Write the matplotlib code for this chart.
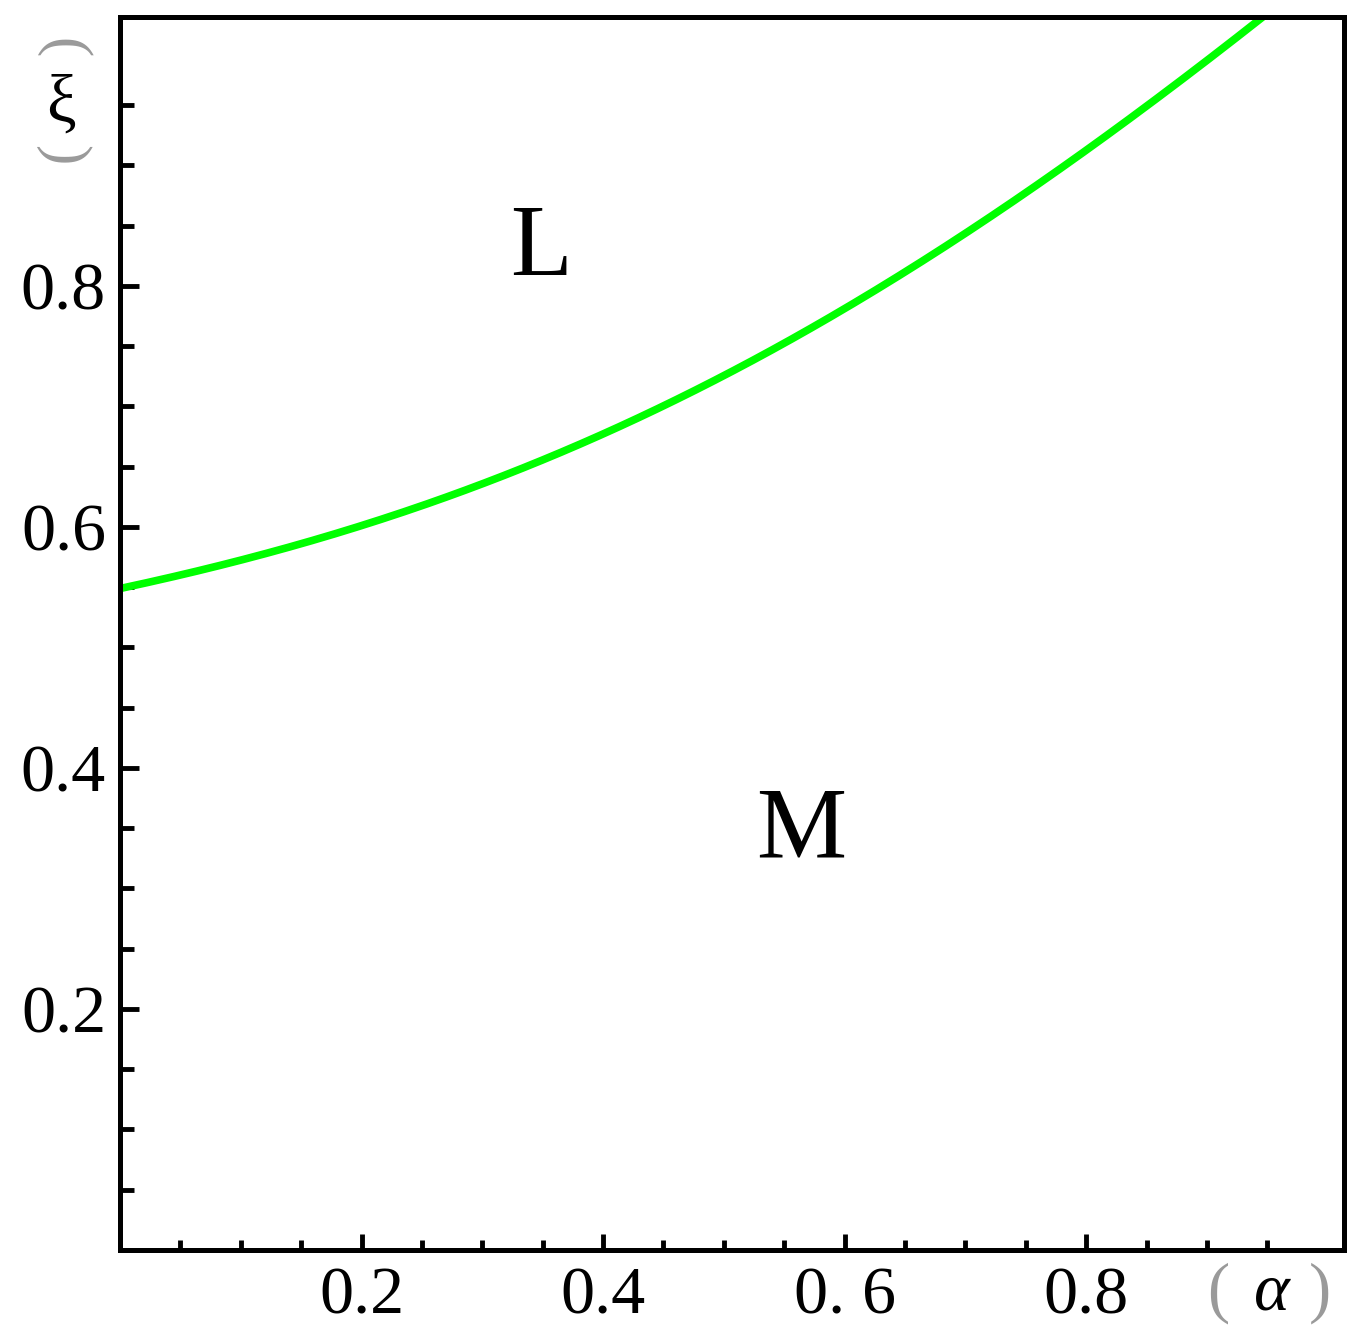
import numpy as np
import matplotlib
matplotlib.use('Agg')
from matplotlib import pyplot as plt

# boundary curve
alpha = [0.0, 0.05, 0.1, 0.15, 0.2, 0.25, 0.3, 0.35, 0.4, 0.45,
         0.5, 0.55, 0.6, 0.65, 0.7, 0.75, 0.8, 0.85, 0.9, 0.95]
xi = [0.548, 0.560, 0.573, 0.587, 0.602, 0.618, 0.635, 0.654, 0.675, 0.699,
      0.726, 0.754, 0.783, 0.813, 0.844, 0.876, 0.911, 0.948, 0.987, 1.027]

major_ticks = [0.2, 0.4, 0.6, 0.8]
x_labels = ['0.2', '0.4', '0. 6', '0.8']
y_labels = ['0.2', '0.4', '0.6', '0.8']
minor_ticks = [0.05, 0.1, 0.15, 0.25, 0.3, 0.35, 0.45, 0.5, 0.55,
               0.65, 0.7, 0.75, 0.85, 0.9, 0.95]

region_labels = ['L', 'M']
region_pos = [(0.349, 0.829), (0.564, 0.346)]

serif = 'Liberation Serif'
plt.rcParams['font.family'] = [serif, 'DejaVu Serif']

W, H, dpi = 1366, 1334, 100
fig = plt.figure(figsize=(W / dpi, H / dpi), dpi=dpi, facecolor='white')
ax = fig.add_axes([120 / W, 1 - 1250 / H, (1344 - 120) / W, (1250 - 17) / H])

# smooth the read points a little so the line has no kinks
coef = np.polyfit(alpha, xi, 4)
a_fine = np.linspace(alpha[0], alpha[-1], 300)
ax.plot(a_fine, np.polyval(coef, a_fine), color='#00ff00', lw=5.5,
        solid_capstyle='butt')
ax.set_xlim(0, 1.0135)
ax.set_ylim(0, 1.023)

for sp in ax.spines.values():
    sp.set_linewidth(3.6)

ax.set_xticks(major_ticks)
ax.set_xticklabels(x_labels)
ax.set_yticks(major_ticks)
ax.set_yticklabels(y_labels)
ax.set_xticks(minor_ticks, minor=True)
ax.set_yticks(minor_ticks, minor=True)

ax.tick_params(axis='both', which='both', direction='in', width=3.5,
               top=False, right=False, labelsize=49, colors='black')
ax.tick_params(axis='x', which='major', length=11.5, pad=12)
ax.tick_params(axis='x', which='minor', length=7)
ax.tick_params(axis='y', which='major', length=14, pad=10)
ax.tick_params(axis='y', which='minor', length=10)

for lab, (x, y) in zip(region_labels, region_pos):
    ax.text(x, y, lab, fontsize=73, ha='center', va='center')

# axis names drawn as loose text, like the original
paren_col = '#9a9a9a'
fig.text(1218 / W, 1 - 1293 / H, '(', fontsize=48, color=paren_col,
         ha='center', va='center')
fig.text(1272 / W, 1 - 1293 / H, 'α', fontsize=49, style='italic',
         ha='center', va='center')
fig.text(1320 / W, 1 - 1293 / H, ')', fontsize=48, color=paren_col,
         ha='center', va='center')

fig.text(62 / W, 1 - 48 / H, '(', fontsize=44, color=paren_col,
         rotation=-90, ha='center', va='center')
fig.text(61 / W, 1 - 105 / H, 'ξ', fontsize=48, ha='center', va='center')
fig.text(62 / W, 1 - 155 / H, ')', fontsize=44, color=paren_col,
         rotation=-90, ha='center', va='center')

fig.savefig('out.png', dpi=dpi, facecolor='white')
